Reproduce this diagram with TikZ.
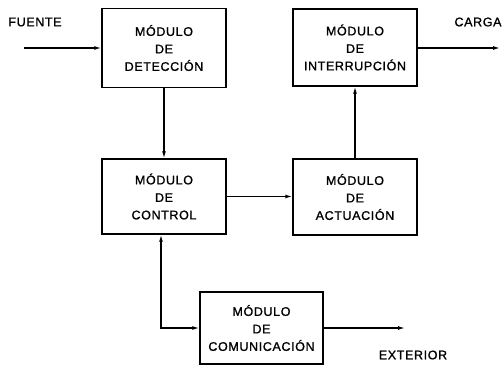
\documentclass[tikz,border=0pt]{standalone}
\usepackage{fontspec}
\setmainfont[LetterSpace=5,FakeBold=1.2]{Liberation Sans}
\usetikzlibrary{arrows.meta}
\begin{document}
\begin{tikzpicture}[x=1pt,y=-1pt,
  blk/.style={draw,line width=1.4pt,rectangle,minimum width=124pt,align=center,
    font=\fontsize{12.5}{17.5}\selectfont,inner sep=0pt},
  lbl/.style={font=\fontsize{12.5}{14}\selectfont,inner sep=0pt},
  arr/.style={line width=1.3pt,-{Latex[length=7pt,width=4pt]}},
  arrb/.style={line width=1.3pt,{Latex[length=7pt,width=4pt]}-{Latex[length=7pt,width=4pt]}}]
\useasboundingbox (0,0) rectangle (502,366);
\node[blk,minimum height=79pt] (det) at (164,48) {MÓDULO\\DE\\DETECCIÓN};
\node[blk,minimum height=77pt] (int) at (355,47.5) {MÓDULO\\DE\\INTERRUPCIÓN};
\node[blk,minimum height=75pt] (ctl) at (164,196.5) {MÓDULO\\DE\\CONTROL};
\node[blk,minimum height=76pt] (act) at (355,197) {MÓDULO\\DE\\ACTUACIÓN};
\node[blk,minimum width=123pt,minimum height=72pt] (com) at (261.5,328) {MÓDULO\\DE\\COMUNICACIÓN};
\node[lbl] (fuente) at (35,22) {FUENTE};
\node[lbl] (carga) at (478,22) {CARGA};
\node[lbl] (ext) at (413,355) {EXTERIOR};
\coordinate (fin) at (24,48);
\coordinate (cout) at (500,48);
\coordinate (eout) at (405,328);
\draw[arr] (fin) -- (det.west |- fin);
\draw[arr] (int.east |- cout) -- (cout);
\draw[arr] (det.south) -- (ctl.north);
\draw[arr] (ctl.east) -- (act.west |- ctl.east);
\draw[arr] (act.north) -- (int.south);
\draw[arrb] ([xshift=-3pt]ctl.south) |- (com.west);
\draw[arr] (com.east) -- (eout);
\end{tikzpicture}
\end{document}
